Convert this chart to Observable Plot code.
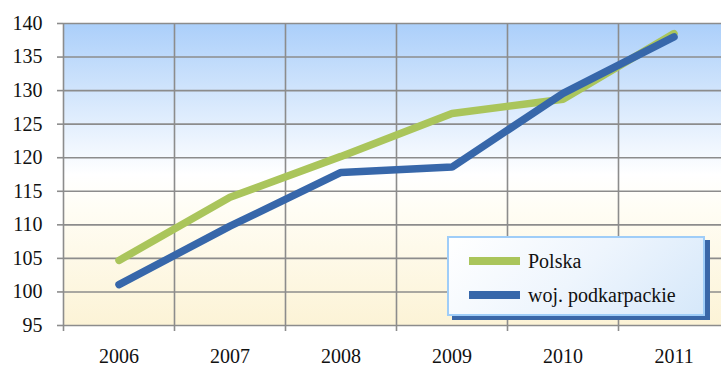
<!DOCTYPE html>
<html><head><meta charset="utf-8">
<script src="https://cdn.jsdelivr.net/npm/d3@7"></script>
<script src="https://cdn.jsdelivr.net/npm/@observablehq/plot@0.6"></script>
<style>
body{margin:0;background:#fff;}
#wrap{position:relative;width:721px;height:368px;overflow:hidden;font-family:'Liberation Serif';}
#wrap svg text{font-family:'Liberation Serif';}
#legend{position:absolute;left:447px;top:236px;width:254px;height:76px;border:2px solid #9fcdf8;
 background:linear-gradient(135deg,#ffffff 0%,#eef5fd 50%,#d6e8fa 100%);box-shadow:5px 4px 0 #3a67a8;}
.sw{position:absolute;left:20px;width:51px;height:8px;}
.lab{position:absolute;left:79px;white-space:nowrap;font-size:20px;line-height:23px;color:#111;font-family:'Liberation Serif';}
</style></head>
<body><div id="wrap"></div>
<script>
const years = [2006, 2007, 2008, 2009, 2010, 2011];
const polska = [104.7, 114.1, 120.2, 126.6, 128.7, 138.5];
const podkarpackie = [101.1, 109.8, 117.8, 118.6, 129.6, 138.0];
const seriesNames = ["Polska", "woj. podkarpackie"];
const seriesColors = ["#aac55b", "#3767aa"];
const yTicks = [95, 100, 105, 110, 115, 120, 125, 130, 135, 140];

const rows = [];
years.forEach((y, i) => {
  rows.push({year: y, value: polska[i], s: seriesNames[0]});
  rows.push({year: y, value: podkarpackie[i], s: seriesNames[1]});
});
const bounds = years.map(y => y - 0.5).concat([years[years.length - 1] + 0.5]);
const yMin = yTicks[0], yMax = yTicks[yTicks.length - 1];

const chart = Plot.plot({
  width: 721, height: 368,
  marginLeft: 63, marginTop: 23, marginBottom: 43, marginRight: 0,
  style: {fontFamily: "'Liberation Serif'", fontSize: "20px", color: "#111", background: "transparent"},
  x: {type: "linear", domain: [years[0] - 0.5, years[years.length - 1] + 0.5], range: [63, 729]},
  y: {type: "linear", domain: [yMin, yMax], range: [325, 23]},
  marks: [
    Plot.frame({fill: "url(#bggrad)", stroke: "none"}),
    Plot.ruleY(yTicks, {y: d => d, stroke: "#8c8c8c", strokeWidth: 1.6, strokeOpacity: 1}),
    Plot.ruleX(bounds, {x: d => d, y1: yMin, y2: yMax, stroke: "#8c8c8c", strokeWidth: 1.6, strokeOpacity: 1}),
    Plot.ruleX(bounds, {x: d => d, y1: yMin, y2: yMin, insetBottom: -6, stroke: "#8c8c8c", strokeWidth: 1.6, strokeOpacity: 1}),
    Plot.axisY({ticks: yTicks, tickSize: 6, tickPadding: 15, stroke: "#8c8c8c", strokeWidth: 1.6, tickFormat: d => String(d), fontSize: 20, fontFamily: "Liberation Serif", label: null}),
    Plot.axisX({ticks: years, tickSize: 0, tickPadding: 23, tickFormat: d => String(d), fontSize: 20, fontFamily: "Liberation Serif", label: null}),
    Plot.line(rows.filter(r => r.s === seriesNames[0]), {x: "year", y: "value", stroke: seriesColors[0], strokeWidth: 7.5, strokeLinecap: "round", strokeLinejoin: "miter"}),
    Plot.line(rows.filter(r => r.s === seriesNames[1]), {x: "year", y: "value", stroke: seriesColors[1], strokeWidth: 7.5, strokeLinecap: "round", strokeLinejoin: "miter"})
  ]
});

const ns = "http://www.w3.org/2000/svg";
const defs = document.createElementNS(ns, "defs");
defs.innerHTML = '<linearGradient id="bggrad" x1="0" y1="0" x2="0" y2="1">' +
  '<stop offset="0" stop-color="#abcffa"/>' +
  '<stop offset="0.5" stop-color="#ffffff"/>' +
  '<stop offset="0.62" stop-color="#fffdf4"/>' +
  '<stop offset="1" stop-color="#fcf3d6"/></linearGradient>';
chart.insertBefore(defs, chart.firstChild);

const wrap = document.getElementById("wrap");
wrap.appendChild(chart);

const legend = document.createElement("div");
legend.id = "legend";
seriesNames.forEach((n, i) => {
  const sw = document.createElement("div");
  sw.className = "sw"; sw.style.background = seriesColors[i]; sw.style.top = (19 + 34 * i) + "px";
  const lab = document.createElement("div");
  lab.className = "lab"; lab.textContent = n; lab.style.top = (12 + 34 * i) + "px";
  legend.appendChild(sw); legend.appendChild(lab);
});
wrap.appendChild(legend);
</script></body></html>
